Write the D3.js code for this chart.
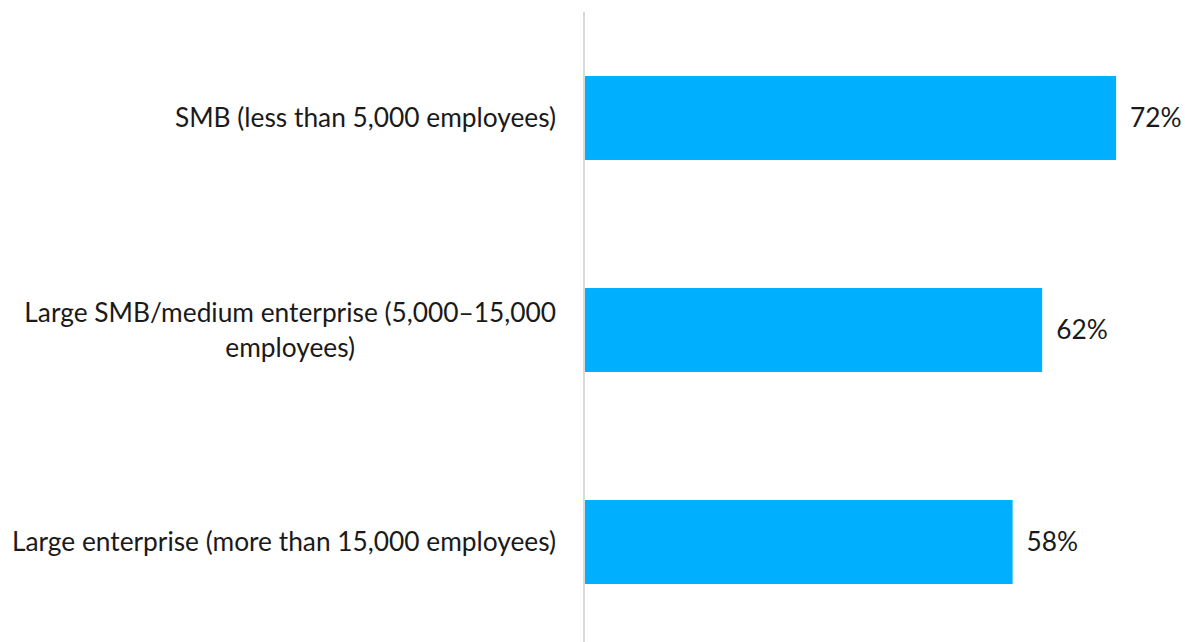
<!DOCTYPE html>
<html>
<head>
<meta charset="utf-8">
<script src="https://cdn.jsdelivr.net/npm/d3@7"></script>
<style>
  body { margin: 0; background: #fff; }
  text { font-family: Lato, "Open Sans", sans-serif; fill: #1a1a1a; }
</style>
</head>
<body>
<svg id="chart" width="1185" height="642"></svg>
<script>
// categories (each entry = label lines) and values in percent
var categories = [
    ["SMB (less than 5,000 employees)"],
    ["Large SMB/medium enterprise (5,000\u201315,000", "employees)"],
    ["Large enterprise (more than 15,000 employees)"]
];
var values = [72, 62, 58];

var svg = d3.select("#chart");
var fontSize = 26.3;

var x = d3.scaleLinear().domain([0, 100]).range([584, 1323]);
var y = d3.scaleBand()
    .domain(d3.range(categories.length))
    .range([12, 648])
    .paddingInner(0.604)
    .paddingOuter(0.302);

// bars
svg.selectAll(".bar")
    .data(values)
  .enter().append("rect")
    .attr("class", "bar")
    .attr("x", x(0))
    .attr("y", function(d, i) { return y(i); })
    .attr("width", function(d) { return x(d) - x(0); })
    .attr("height", y.bandwidth())
    .attr("fill", "#00b0ff");

// vertical axis line
svg.append("line")
    .attr("x1", x(0)).attr("x2", x(0))
    .attr("y1", 12).attr("y2", 642)
    .attr("stroke", "#d9d9d9")
    .attr("stroke-width", 2);

// value labels
svg.selectAll(".val")
    .data(values)
  .enter().append("text")
    .attr("class", "val")
    .attr("x", function(d) { return x(d) + 14; })
    .attr("y", function(d, i) { return y(i) + y.bandwidth() / 2; })
    .attr("dy", "0.35em")
    .style("font-size", fontSize + "px")
    .text(function(d) { return d + "%"; });

// category labels, right aligned block, lines centered within it
var labelRight = 556;
var lineH = 35;
categories.forEach(function(lines, i) {
    var g = svg.append("g");
    var cy = y(i) + y.bandwidth() / 2;
    var texts = lines.map(function(s, k) {
        return g.append("text")
            .attr("y", cy + (k - (lines.length - 1) / 2) * lineH)
            .attr("dy", "0.35em")
            .attr("text-anchor", "middle")
            .style("font-size", fontSize + "px")
            .text(s);
    });
    var maxW = d3.max(texts, function(t) { return t.node().getComputedTextLength(); });
    texts.forEach(function(t) { t.attr("x", labelRight - maxW / 2); });
});
</script>
</body>
</html>
